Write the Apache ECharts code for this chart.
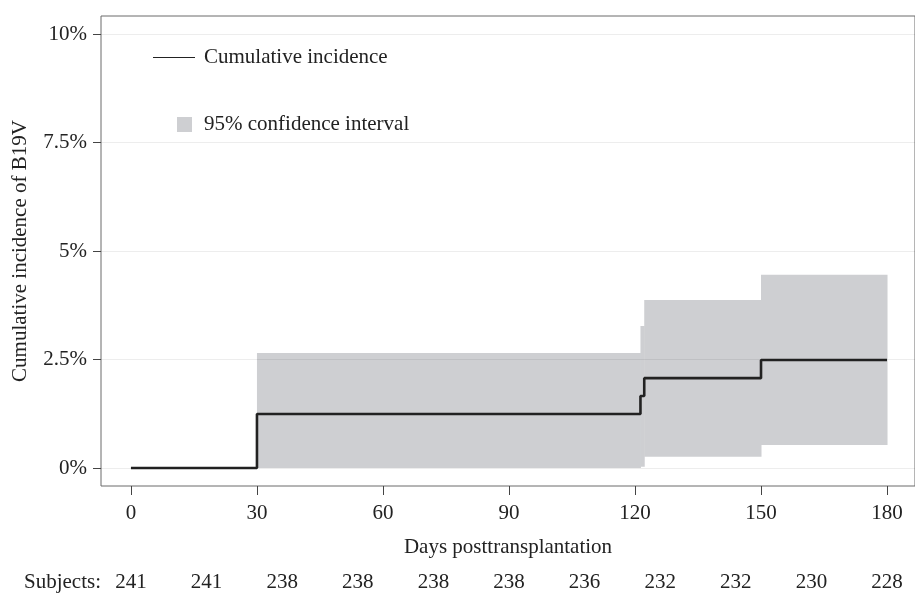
<!DOCTYPE html>
<html>
<head>
<meta charset="utf-8">
<script src="https://cdn.jsdelivr.net/npm/echarts@6/dist/echarts.min.js"></script>
<style>html,body{margin:0;padding:0;background:#fff}#c{width:915px;height:594px}</style>
</head>
<body>
<div id="c"></div>
<script>
// Cumulative incidence step curve (day, %)
var incDays = [0, 30, 121.3, 122.2, 150, 180];
var incVals = [0, 1.245, 1.66, 2.07, 2.49, 2.49];
// 95% CI step boundaries (day, lower %, upper %); each value holds until the next day
var ciDays = [30, 121.3, 122.2, 150, 180];
var ciLower = [0, 0.03, 0.26, 0.53, 0.53];
var ciUpper = [2.65, 3.27, 3.87, 4.45, 4.45];
// axis ticks
var xTicks = [0, 30, 60, 90, 120, 150, 180];
var yTicks = [0, 2.5, 5, 7.5, 10];
// number at risk
var subjectDays = [0, 18, 36, 54, 72, 90, 108, 126, 144, 162, 180];
var subjects = [241, 241, 238, 238, 238, 238, 236, 232, 232, 230, 228];

var FONT = '"Liberation Serif", "DejaVu Serif", serif';
var TXT = '#222';
var CI_COLOR = '#cecfd2';

var incData = incDays.map(function (d, i) { return [d, incVals[i]]; });
var ciSegs = [];
for (var i = 0; i < ciDays.length - 1; i++) {
  ciSegs.push([ciDays[i], ciDays[i + 1], ciLower[i], ciUpper[i]]);
}

var chart = echarts.init(document.getElementById('c'), null, {renderer: 'canvas'});
chart.setOption({
  animation: false,
  backgroundColor: '#fff',
  textStyle: {fontFamily: FONT, color: TXT},
  grid: {left: 101, top: 16, right: -1, bottom: 108, show: true, borderColor: '#6a6a6a', borderWidth: 1, backgroundColor: 'transparent'},
  legend: [
    {
      data: ['Cumulative incidence'], left: 153, top: 47, padding: 0, itemWidth: 42, itemHeight: 1.4,
      icon: 'path://M0,0H42V1H0Z', itemStyle: {color: '#222'},
      textStyle: {fontFamily: FONT, fontSize: 21, color: TXT, padding: [0, 0, 0, 4]},
      selectedMode: false
    },
    {
      data: ['95% confidence interval'], left: 177, top: 114, padding: 0, itemWidth: 15, itemHeight: 15, icon: 'rect',
      itemStyle: {color: CI_COLOR},
      textStyle: {fontFamily: FONT, fontSize: 21, color: TXT, padding: [0, 0, 0, 7]},
      selectedMode: false
    }
  ],
  xAxis: [
    {
      type: 'value', min: -7.13, max: 186.66,
      name: 'Days posttransplantation', nameLocation: 'middle', nameGap: 51,
      nameTextStyle: {fontFamily: FONT, fontSize: 21, color: TXT},
      axisLine: {show: false, onZero: false},
      axisTick: {show: true, inside: false, length: 9, lineStyle: {color: '#444'}, customValues: xTicks},
      axisLabel: {fontFamily: FONT, fontSize: 21, color: TXT, margin: 17, customValues: xTicks},
      splitLine: {show: false}
    },
    {
      type: 'value', min: -7.13, max: 186.66, position: 'bottom', offset: 72,
      axisLine: {show: false, onZero: false}, axisTick: {show: false}, splitLine: {show: false},
      axisLabel: {
        fontFamily: FONT, fontSize: 21, color: TXT, margin: 14, customValues: subjectDays,
        formatter: function (v) { var k = subjectDays.indexOf(v); return k >= 0 ? String(subjects[k]) : ''; }
      }
    }
  ],
  yAxis: {
    type: 'value', min: -0.415, max: 10.415,
    name: 'Cumulative incidence of B19V', nameLocation: 'middle', nameGap: 70,
    nameTextStyle: {fontFamily: FONT, fontSize: 21, color: TXT},
    axisLine: {show: false, onZero: false},
    axisTick: {show: true, inside: false, length: 8, lineStyle: {color: '#444'}, customValues: yTicks},
    axisLabel: {fontFamily: FONT, fontSize: 21, color: TXT, margin: 14, customValues: yTicks,
      formatter: function (v) { return v + '%'; }},
    splitLine: {show: false}
  },
  graphic: [
    {type: 'text', right: 915 - 101, top: 572, style: {text: 'Subjects:', font: '21px ' + FONT, fill: TXT, textAlign: 'right'}}
  ],
  series: [
    {
      name: '95% confidence interval', type: 'custom', data: ciSegs, z: 2, silent: true,
      itemStyle: {color: CI_COLOR},
      encode: {x: [0, 1], y: [2, 3]},
      renderItem: function (params, api) {
        var p0 = api.coord([api.value(0), api.value(3)]);
        var p1 = api.coord([api.value(1), api.value(2)]);
        return {
          type: 'rect',
          shape: {x: p0[0], y: p0[1], width: p1[0] - p0[0] + 0.5, height: p1[1] - p0[1]},
          style: {fill: CI_COLOR}
        };
      }
    },
    {
      name: 'gridlines', type: 'line', data: [], z: 2.5, silent: true,
      markLine: {
        silent: true, symbol: 'none', label: {show: false},
        lineStyle: {color: 'rgba(0,0,0,0.07)', width: 1, type: 'solid'},
        data: yTicks.map(function (v) { return {yAxis: v}; })
      }
    },
    {
      name: 'Cumulative incidence', type: 'line', step: 'end', data: incData, symbol: 'none',
      itemStyle: {color: '#222'},
      lineStyle: {color: '#222', width: 2.6}, z: 3, silent: true
    }
  ]
});
</script>
</body>
</html>
